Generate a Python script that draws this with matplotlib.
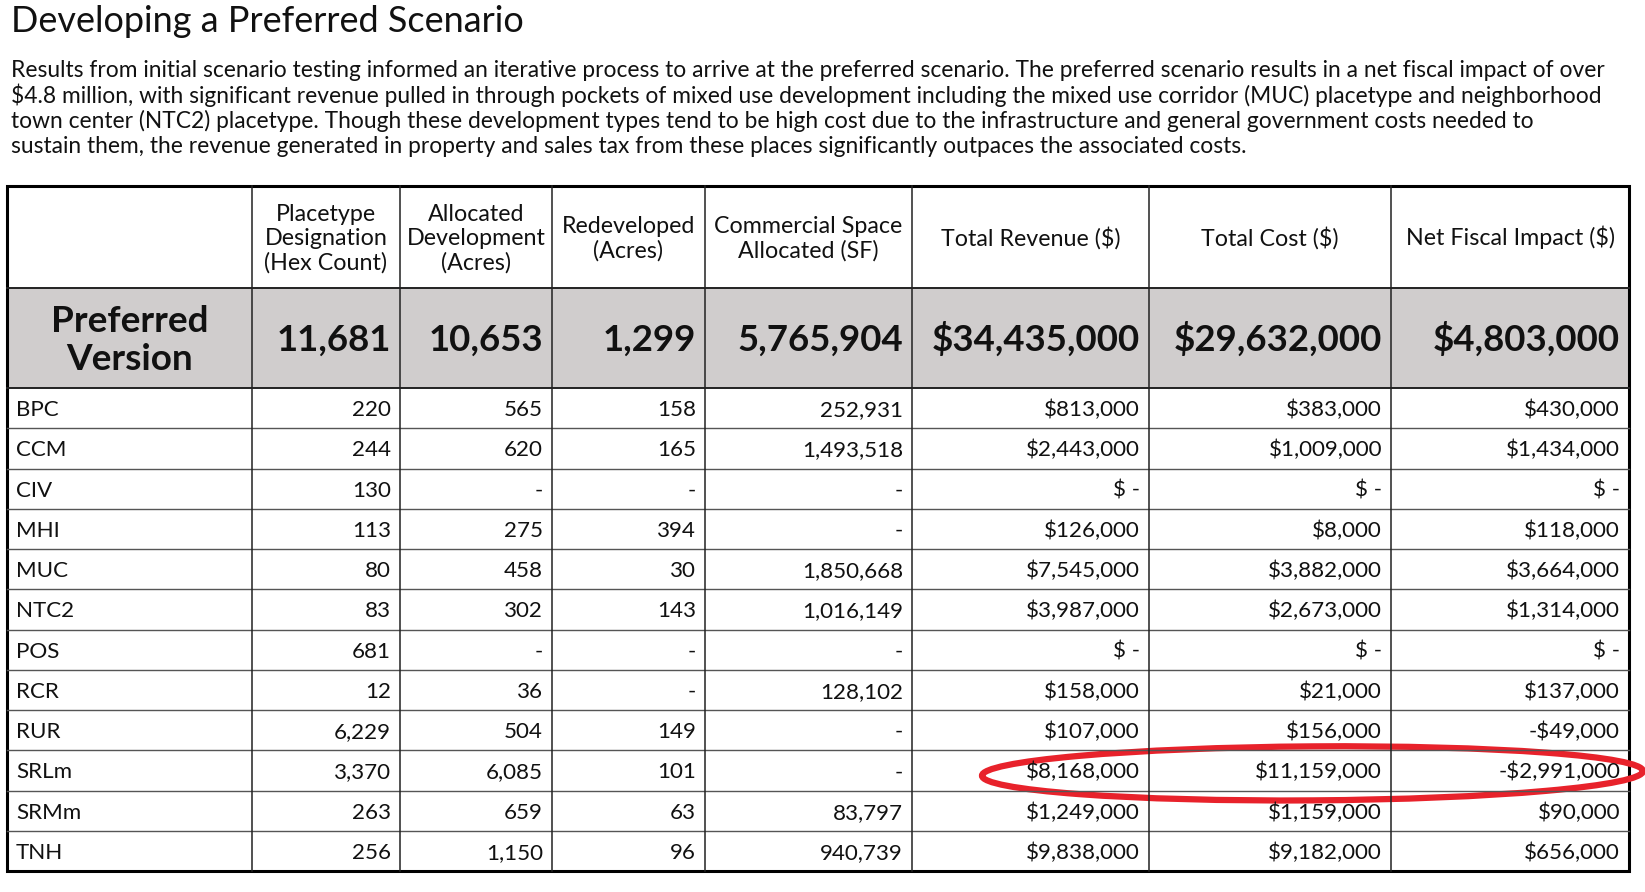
"""
    Preferred scenario fiscal impact table, drawn with matplotlib
"""
from matplotlib import pyplot as plt
from matplotlib import font_manager
from matplotlib.font_manager import FontProperties
from matplotlib.textpath import TextPath
from matplotlib.patches import Rectangle, Ellipse

# ---- data -------------------------------------------------------------
title = "Developing a Preferred Scenario"
paragraph = [
    "Results from initial scenario testing informed an iterative process to arrive at the preferred scenario. "
    "The preferred scenario results in a net fiscal impact of over",
    "$4.8 million, with significant revenue pulled in through pockets of mixed use development including "
    "the mixed use corridor (MUC) placetype and neighborhood",
    "town center (NTC2) placetype. Though these development types tend to be high cost due to the "
    "infrastructure and general government costs needed to",
    "sustain them, the revenue generated in property and sales tax from these places significantly "
    "outpaces the associated costs.",
]

headers = ["", "Placetype\nDesignation\n(Hex Count)", "Allocated\nDevelopment\n(Acres)",
           "Redeveloped\n(Acres)", "Commercial Space\nAllocated (SF)",
           "Total Revenue ($)", "Total Cost ($)", "Net Fiscal Impact ($)"]
total_label = "Preferred\nVersion"

placetypes = ["BPC", "CCM", "CIV", "MHI", "MUC", "NTC2", "POS", "RCR", "RUR", "SRLm", "SRMm", "TNH"]
hex_count = [220, 244, 130, 113, 80, 83, 681, 12, 6229, 3370, 263, 256]
alloc_acres = [565, 620, None, 275, 458, 302, None, 36, 504, 6085, 659, 1150]
redev_acres = [158, 165, None, 394, 30, 143, None, None, 149, 101, 63, 96]
commercial_sf = [252931, 1493518, None, None, 1850668, 1016149, None, 128102, None, None, 83797, 940739]
revenue = [813000, 2443000, None, 126000, 7545000, 3987000, None, 158000, 107000, 8168000, 1249000, 9838000]
cost = [383000, 1009000, None, 8000, 3882000, 2673000, None, 21000, 156000, 11159000, 1159000, 9182000]
net_impact = [430000, 1434000, None, 118000, 3664000, 1314000, None, 137000, -49000, -2991000, 90000, 656000]
totals = [11681, 10653, 1299, 5765904, 34435000, 29632000, 4803000]
money_cols = [False, False, False, False, True, True, True]
highlight_row = "SRLm"
highlight_cols = [5, 7]   # Total Revenue .. Net Fiscal Impact

# ---- layout (pixels) --------------------------------------------------
W, H = 1645, 892
col_edges = [7, 252, 400, 552, 705, 912, 1149, 1391, 1629]
table_top, header_bottom, total_bottom, table_bottom = 186, 288, 388, 871
pad = 9

plt.rcParams['text.parse_math'] = False
names = {f.name for f in font_manager.fontManager.ttflist}
family = 'Liberation Sans Narrow' if 'Liberation Sans Narrow' in names else 'Lato'


def text_width(s, weight='normal', size=10):
    prop = FontProperties(family=family, weight=weight)
    return TextPath((0, 0), s, size=size, prop=prop).get_extents().width


def fit(s, target_px, weight='normal'):
    # fontsize in points so that s is target_px wide at dpi 100
    return target_px * 10 * 72 / (text_width(s, weight) * 100)


def fmt(v, money):
    if v is None:
        return "$ -" if money else "-"
    s = f"{abs(v):,}"
    if money:
        s = "$" + s
    return "-" + s if v < 0 else s


def put(ax, x, yc, s, size, ha='left', weight='normal', linespacing=1.2):
    px = size * 100 / 72
    ax.text(x, yc + 0.36 * px, s, fontsize=size, ha=ha, va='baseline', family=family,
            weight=weight, color='#111111')


def main():
    fig = plt.figure(figsize=(W / 100, H / 100), dpi=100)
    ax = fig.add_axes([0, 0, 1, 1])
    ax.set_xlim(0, W)
    ax.set_ylim(H, 0)
    ax.axis('off')

    # title and paragraph
    put(ax, 11, 19, title, fit(title, 508))
    psize = fit(paragraph[0], 1590)
    for i, line in enumerate(paragraph):
        put(ax, 11, 69 + i * 25.3, line, psize)

    # gray total row
    ax.add_patch(Rectangle((col_edges[0], header_bottom), col_edges[-1] - col_edges[0],
                           total_bottom - header_bottom, color='#d0cdcd', lw=0))

    n = len(placetypes)
    row_h = (table_bottom - total_bottom) / n
    # grid
    for y in [total_bottom + k * row_h for k in range(1, n)]:
        ax.plot([col_edges[0], col_edges[-1]], [y, y], color='#555555', lw=1.0)
    for y in [header_bottom, total_bottom]:
        ax.plot([col_edges[0], col_edges[-1]], [y, y], color='#222222', lw=1.4)
    for x in col_edges[1:-1]:
        ax.plot([x, x], [table_top, table_bottom], color='#222222', lw=1.1)
    ax.add_patch(Rectangle((col_edges[0], table_top), col_edges[-1] - col_edges[0],
                           table_bottom - table_top, fill=False, ec='black', lw=2.2))

    # header
    hsize = fit("Development", 136)
    hc = (table_top + header_bottom) / 2
    for j, h in enumerate(headers):
        if not h:
            continue
        lines = h.split("\n")
        xc = (col_edges[j] + col_edges[j + 1]) / 2
        for k, ln in enumerate(lines):
            y = hc + (k - (len(lines) - 1) / 2) * 24.5
            put(ax, xc, y, ln, hsize, ha='center')

    # total row
    tc = (header_bottom + total_bottom) / 2
    lsize = fit("Preferred", 152, 'bold')
    for k, ln in enumerate(total_label.split("\n")):
        put(ax, (col_edges[0] + col_edges[1]) / 2, tc + (k - 0.5) * 38, ln, lsize,
            ha='center', weight='bold')
    bsize = fit("$34,435,000", 206, 'bold')
    for j, v in enumerate(totals):
        put(ax, col_edges[j + 2] - pad, tc, fmt(v, money_cols[j]), bsize,
            ha='right', weight='bold')

    # body rows
    dsize = fit("$2,443,000", 112)
    columns = [hex_count, alloc_acres, redev_acres, commercial_sf, revenue, cost, net_impact]
    for i, name in enumerate(placetypes):
        yc = total_bottom + (i + 0.5) * row_h
        put(ax, col_edges[0] + 9, yc, name, dsize)
        for j, col in enumerate(columns):
            put(ax, col_edges[j + 2] - pad, yc, fmt(col[i], money_cols[j]), dsize, ha='right')

    # red hand-drawn style ellipse around the SRLm money cells
    i = placetypes.index(highlight_row)
    yc = total_bottom + (i + 0.5) * row_h
    x0 = col_edges[highlight_cols[0]] + 70
    x1 = W - 2
    ax.add_patch(Ellipse(((x0 + x1) / 2, yc + 3), x1 - x0, 54, angle=-0.4,
                         fill=False, ec='#e8222b', lw=4.5, clip_on=False))

    plt.savefig('out.png', dpi=100)


if __name__ == "__main__":
    main()
